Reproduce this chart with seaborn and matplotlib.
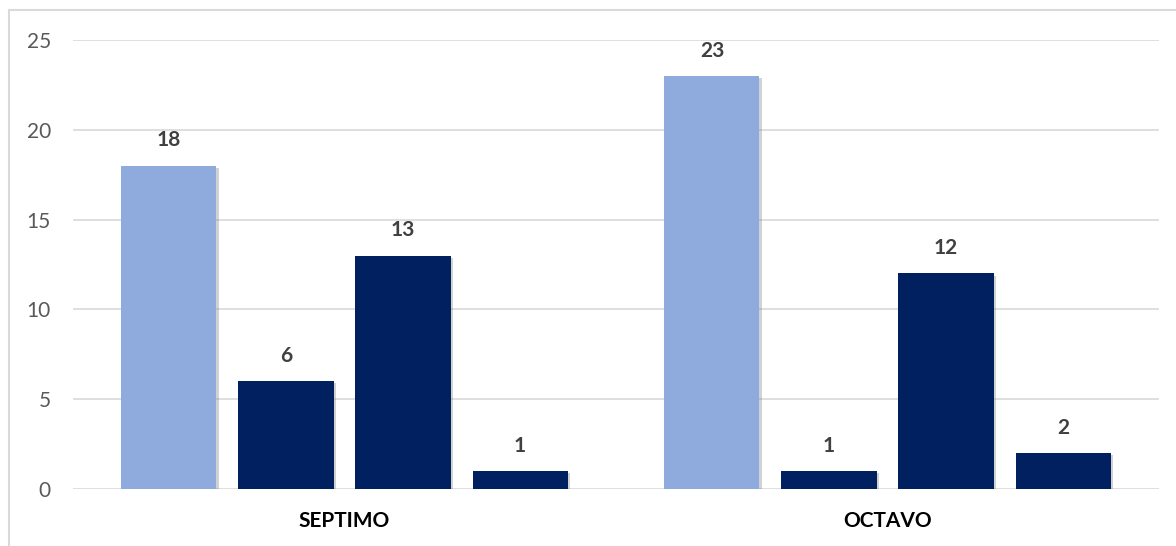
import matplotlib
matplotlib.use("Agg")
import matplotlib.pyplot as plt
import matplotlib.patheffects as pe
from matplotlib.lines import Line2D
import pandas as pd
import seaborn as sns

# Grades on the x axis and the four answer groups drawn in each grade
grades = ["SEPTIMO", "OCTAVO"]
groups = ["Grupo 1", "Grupo 2", "Grupo 3", "Grupo 4"]
group_1 = [18, 23]
group_2 = [6, 1]
group_3 = [13, 12]
group_4 = [1, 2]
y_ticks = [0, 5, 10, 15, 20, 25]

series = [group_1, group_2, group_3, group_4]
rows = []
for name, vals in zip(groups, series):
    for grade, v in zip(grades, vals):
        rows.append({"grado": grade, "grupo": name, "valor": v})
df = pd.DataFrame(rows)

sns.set_theme(style="white")
plt.rcParams["font.family"] = ["Lato", "DejaVu Sans"]

LIGHT = "#8FAADC"
NAVY = "#002060"
palette = [LIGHT, NAVY, NAVY, NAVY]

fig = plt.figure(figsize=(11.76, 5.46), dpi=100)
ax = fig.add_axes([73 / 1176, 1 - 489 / 546, (1159 - 73) / 1176, (489 - 40) / 546])

sns.barplot(
    data=df, x="grado", y="valor", hue="grupo",
    order=grades, hue_order=groups, palette=palette,
    width=0.862, gap=0.188, saturation=1, legend=False,
    linewidth=0, ax=ax, zorder=3,
)

shadow = [pe.SimplePatchShadow(offset=(1.5, -1.5), shadow_rgbFace="#7f7f7f", alpha=0.35), pe.Normal()]
for cont in ax.containers:
    for bar in cont:
        bar.set_path_effects(shadow)
    ax.bar_label(cont, fmt="%d", padding=11, fontsize=15, fontweight="bold", color="#404040")

ax.set_ylim(0, 25)
ax.set_yticks(y_ticks)
ax.set_xlim(-0.5, 1.5)
ax.yaxis.grid(True, color="#D9D9D9", linewidth=1.2, zorder=0)
ax.xaxis.grid(False)
ax.set_axisbelow(True)
for s in ax.spines.values():
    s.set_visible(False)
ax.set_xlabel("")
ax.set_ylabel("")
ax.tick_params(axis="y", length=0, pad=16, labelsize=15, labelcolor="#595959")
ax.tick_params(axis="x", length=0, pad=16, labelsize=15)
for lbl in ax.get_xticklabels():
    lbl.set_fontweight("bold")
    lbl.set_color("#000000")

# Chart frame (top and left edges)
frame_color = "#D9D9D9"
fig.add_artist(Line2D([9 / 1176, 1.0], [1 - 10 / 546, 1 - 10 / 546], color=frame_color, linewidth=1.5, transform=fig.transFigure))
fig.add_artist(Line2D([9 / 1176, 9 / 1176], [0.0, 1 - 10 / 546], color=frame_color, linewidth=1.5, transform=fig.transFigure))

fig.savefig("out.png", dpi=100, facecolor="white")
